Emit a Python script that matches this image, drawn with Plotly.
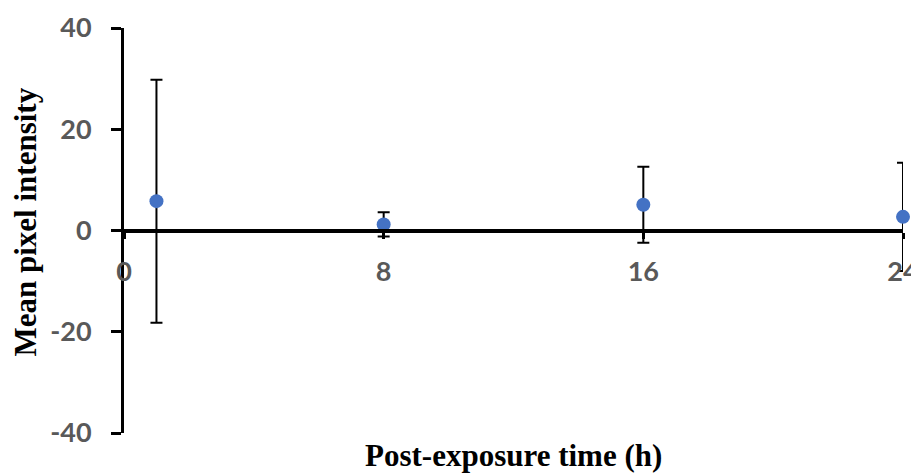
import plotly.graph_objects as go

time_h = [1, 8, 16, 24]
mean_intensity = [5.8, 1.2, 5.1, 2.7]
err_intensity = [24.0, 2.4, 7.5, 10.7]
x_ticks = [0, 8, 16, 24]
x_tick_labels = ["0", "8", "16", "24"]
y_ticks = [-40, -20, 0, 20, 40]
y_tick_labels = ["-40", "-20", "0", "20", "40"]

fig = go.Figure()
fig.add_trace(go.Scatter(
    x=time_h, y=mean_intensity, mode="markers",
    marker=dict(color="#4472C4", size=14),
    error_y=dict(type="data", array=err_intensity, color="black", thickness=2, width=6),
    showlegend=False, cliponaxis=False,
))

tick_font = dict(family="Lato, Carlito, Arial", size=27, color="#595959", weight="bold")
title_font = dict(family="Liberation Serif, Times New Roman", size=31, color="black")
fig.update_layout(
    width=919, height=473,
    margin=dict(l=116, r=24, t=20, b=48, autoexpand=False),
    plot_bgcolor="white", paper_bgcolor="white",
    xaxis=dict(range=[0, 24], tickvals=x_ticks, ticktext=x_tick_labels,
               anchor="free", position=0.5, automargin=False,
               showline=True, linecolor="black", linewidth=4,
               ticks="outside", ticklen=6, tickwidth=3, tickcolor="black",
               ticklabelstandoff=10,
               showgrid=False, zeroline=False, tickfont=tick_font),
    yaxis=dict(range=[-40, 40], tickvals=y_ticks, ticktext=y_tick_labels, automargin=False,
               showline=True, linecolor="black", linewidth=3,
               ticks="outside", ticklen=10, tickwidth=3, tickcolor="black",
               ticklabelstandoff=14,
               showgrid=False, zeroline=False, tickfont=tick_font),
    annotations=[
        dict(text="<b>Post-exposure time (h)</b>", x=0.5, y=-40, xref="x domain", yref="y",
             yshift=-22, showarrow=False, yanchor="middle",
             font=title_font),
        dict(text="<b>Mean pixel intensity</b>", x=0, y=0.5, xref="paper", yref="paper",
             xshift=-99, yshift=8, textangle=-90, showarrow=False, xanchor="center",
             font=title_font),
    ],
)
fig.write_html("out.html")
